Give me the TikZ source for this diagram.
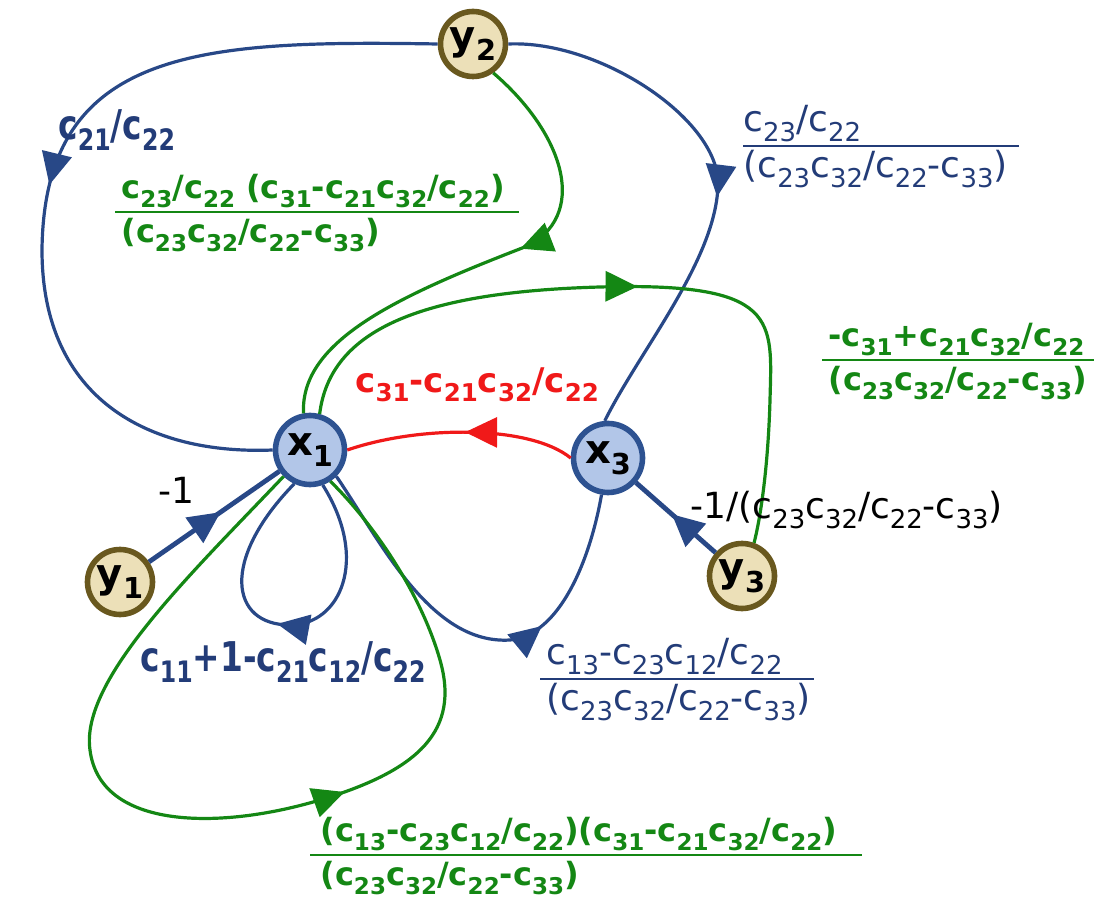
\documentclass[tikz,border=0pt]{standalone}
\usepackage{fontspec}
\setmainfont{DejaVu Sans}
\newfontfamily\narrowfont[FakeStretch=0.8]{DejaVu Sans}
\usetikzlibrary{arrows.meta,decorations.markings}
\definecolor{edgeblue}{RGB}{40,72,135}
\definecolor{textblue}{RGB}{35,60,120}
\definecolor{edgegreen}{RGB}{20,135,20}
\definecolor{edgered}{RGB}{240,25,25}
\definecolor{xfill}{RGB}{178,198,232}
\definecolor{xborder}{RGB}{45,82,145}
\definecolor{yfill}{RGB}{236,224,184}
\definecolor{yborder}{RGB}{105,88,30}
\makeatletter
\newcommand{\sbs}[1]{\raisebox{-0.5ex}{\fontsize{\fpeval{0.72*\f@size}}{1}\selectfont #1}}
\makeatother
\newcommand{\cs}[1]{c\sbs{#1}}
\newcommand{\frc}[3]{\begin{tabular}{@{}l@{}}\makebox[#1][l]{#2}\\\hline #3\end{tabular}}
\setlength{\arrayrulewidth}{1pt}
\begin{document}
\begin{tikzpicture}[x=0.5pt,y=-0.5pt,
    xnode/.style={circle,draw=xborder,fill=xfill,line width=2.8pt,minimum size=34.5pt,inner sep=0pt,
        font=\fontsize{20}{20}\selectfont\bfseries},
    ynode/.style={circle,draw=yborder,fill=yfill,line width=2.8pt,minimum size=32.5pt,inner sep=0pt,
        font=\fontsize{20}{20}\selectfont\bfseries},
    blueedge/.style={color=edgeblue,line width=1.6pt},
    greenedge/.style={color=edgegreen,line width=1.6pt},
    tip at/.style={postaction={decorate},decoration={markings,
        mark=at position #1 with {\arrow{Triangle[length=16pt,width=15pt]}}}},
    lbl/.style={anchor=west,inner sep=0pt,font=\fontsize{18}{22}\selectfont},
    boldlbl/.style={anchor=west,inner sep=0pt,font=\fontsize{16}{21}\selectfont\bfseries},
    narrowlbl/.style={anchor=west,inner sep=0pt,font=\fontsize{20.5}{22}\selectfont\narrowfont\bfseries},
]
    \useasboundingbox (0,0) rectangle (1107,898);

    % 节点
    \node[ynode] (y2) at (473,44) {y\sbs{2}};
    \node[xnode] (x1) at (310,450) {x\sbs{1}};
    \node[xnode] (x3) at (608,458) {x\sbs{3}};
    \node[ynode] (y1) at (120,582) {y\sbs{1}};
    \node[ynode] (y3) at (742,576) {y\sbs{3}};

    % 蓝色支路
    \draw[blueedge,tip at=0.52] (y2.west) .. controls (200,40) and (44,48) .. (42,250)
        .. controls (42,400) and (150,455) .. (x1.west);
    \draw[blueedge,tip at=0.53] (y2.east) .. controls (600,40) and (720,120) .. (718,185)
        .. controls (716,260) and (640,350) .. (x3.95);
    \draw[blueedge,line width=2.4pt,tip at=0.55] (y1) -- (x1);
    \draw[blueedge,line width=2.4pt,tip at=0.55] (y3) -- (x3);
    \draw[blueedge,tip at=0.52] (x1.-70) .. controls (370,560) and (340,625) .. (290,625)
        .. controls (230,625) and (220,560) .. (x1.-115);
    \draw[blueedge,tip at=0.66] (x1.-45) .. controls (380,540) and (430,645) .. (510,640)
        .. controls (560,635) and (590,560) .. (x3.-100);

    % 绿色支路
    \draw[greenedge,tip at=0.43] (y2.-55) .. controls (560,130) and (590,210) .. (530,245)
        .. controls (400,295) and (300,340) .. (x1.100);
    \draw[greenedge,tip at=0.51] (x1.75) .. controls (330,330) and (420,292) .. (600,287)
        .. controls (780,282) and (772,320) .. (770,400)
        .. controls (768,470) and (760,520) .. (y3.70);
    \draw[greenedge,tip at=0.615] (x1.-135) .. controls (190,575) and (80,680) .. (90,750)
        .. controls (100,830) and (220,830) .. (320,800)
        .. controls (420,770) and (460,730) .. (440,660)
        .. controls (420,590) and (370,520) .. (x1.-57);

    % 红色支路
    \draw[color=edgered,line width=1.6pt,tip at=0.48] (x3.west) .. controls (530,425) and (420,425) .. (x1.east);

    % 支路增益
    \node[narrowlbl,textblue] (wy2x1) at (58,130) {\cs{21}/\cs{22}};
    \node[boldlbl,edgegreen] (wy2x1g) at (115,212)
        {\frc{202pt}{\hspace*{3pt}\cs{23}/\cs{22} (\cs{31}-\cs{21}\cs{32}/\cs{22})}{\hspace*{3pt}(\cs{23}\cs{32}/\cs{22}-\cs{33})}};
    \node[lbl,textblue] (wy2x3) at (743,146)
        {\frc{138pt}{\cs{23}/\cs{22}}{(\cs{23}\cs{32}/\cs{22}-\cs{33})}};
    \node[boldlbl,edgegreen] (wx1y3) at (822,360)
        {\frc{136pt}{\hspace*{3pt}-\cs{31}+\cs{21}\cs{32}/\cs{22}}{\hspace*{3pt}(\cs{23}\cs{32}/\cs{22}-\cs{33})}};
    \node[boldlbl,edgered,font=\fontsize{17}{21}\selectfont\bfseries] (wx3x1) at (355,385) {\cs{31}-\cs{21}\cs{32}/\cs{22}};
    \node[lbl] (wy1x1) at (158,490) {-1};
    \node[lbl] (wy3x3) at (690,510) {-1/(\cs{23}\cs{32}/\cs{22}-\cs{33})};
    \node[narrowlbl,textblue] (wx1x1) at (140,662) {\cs{11}+1-\cs{21}\cs{12}/\cs{22}};
    \node[lbl,textblue] (wx1x3) at (540,679)
        {\frc{137pt}{\hspace*{3pt}\cs{13}-\cs{23}\cs{12}/\cs{22}}{\hspace*{3pt}(\cs{23}\cs{32}/\cs{22}-\cs{33})}};
    \node[boldlbl,edgegreen] (wx1x1g) at (310,855)
        {\frc{276pt}{\hspace*{5pt}(\cs{13}-\cs{23}\cs{12}/\cs{22})(\cs{31}-\cs{21}\cs{32}/\cs{22})}{\hspace*{5pt}(\cs{23}\cs{32}/\cs{22}-\cs{33})}};
\end{tikzpicture}
\end{document}
